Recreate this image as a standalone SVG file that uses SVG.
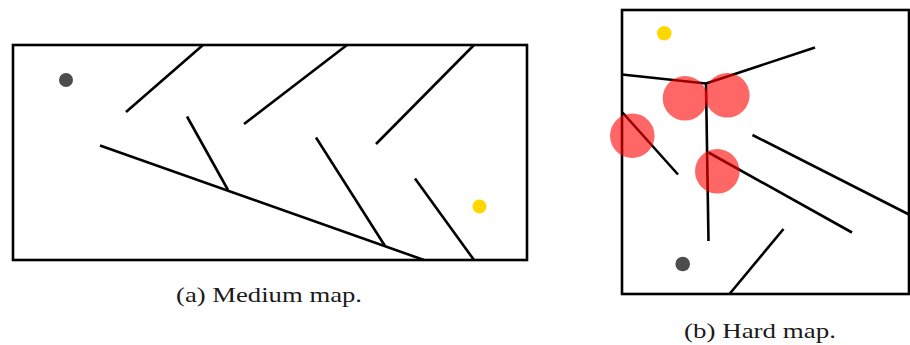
<svg xmlns="http://www.w3.org/2000/svg" width="910" height="345" viewBox="0 0 910 345">
<style>
.frame{fill:none;stroke:#000;stroke-width:2.6}
.wall{stroke:#000;stroke-width:2.6;fill:none}
.start{fill:#4d4d4d}
.goal{fill:#ffd700}
.hazard{fill:#ff0000;fill-opacity:0.6}
.cap{font-family:"Liberation Serif","DejaVu Serif",serif;font-size:21px;fill:#1a1a1a}
</style>
<rect width="910" height="345" fill="#fff"/>
<g id="medium-map">
<rect class="frame" x="13" y="45" width="514" height="215"/>
<g id="medium-walls">
<line class="wall" x1="126" y1="112" x2="203" y2="45"/>
<line class="wall" x1="244" y1="124" x2="347" y2="45"/>
<line class="wall" x1="376" y1="144" x2="474" y2="45"/>
<line class="wall" x1="100" y1="145.5" x2="424" y2="260"/>
<line class="wall" x1="187" y1="116.5" x2="228" y2="190"/>
<line class="wall" x1="316" y1="137.5" x2="385" y2="246"/>
<line class="wall" x1="415" y1="178.5" x2="474" y2="260"/>
</g>
<circle id="medium-start" class="start" cx="66" cy="80" r="7"/>
<circle id="medium-goal" class="goal" cx="479.5" cy="206.5" r="7"/>
<text id="caption-a" class="cap" x="176" y="302" textLength="186" lengthAdjust="spacingAndGlyphs">(a) Medium map.</text>
</g>
<g id="hard-map">
<rect class="frame" x="622" y="10" width="287" height="284"/>
<g id="hard-walls">
<line class="wall" x1="622" y1="74.5" x2="706" y2="83.5"/>
<line class="wall" x1="706" y1="83.5" x2="815" y2="47.5"/>
<line class="wall" x1="706" y1="83.5" x2="708.5" y2="241"/>
<line class="wall" x1="622.5" y1="112.5" x2="678" y2="174.5"/>
<line class="wall" x1="708.5" y1="152.5" x2="852" y2="232.5"/>
<line class="wall" x1="752.5" y1="135" x2="909" y2="214.5"/>
<line class="wall" x1="783.5" y1="229" x2="729.5" y2="294"/>
</g>
<g id="hazards">
<circle class="hazard" cx="685" cy="98.3" r="22.3"/>
<circle class="hazard" cx="727.3" cy="95.3" r="22.3"/>
<circle class="hazard" cx="632.3" cy="135.7" r="22.3"/>
<circle class="hazard" cx="717.3" cy="171.3" r="22.3"/>
</g>
<circle id="hard-start" class="start" cx="682.7" cy="264" r="7.3"/>
<circle id="hard-goal" class="goal" cx="664.3" cy="33.3" r="7.3"/>
<text id="caption-b" class="cap" x="684" y="338" textLength="152" lengthAdjust="spacingAndGlyphs">(b) Hard map.</text>
</g>
</svg>
